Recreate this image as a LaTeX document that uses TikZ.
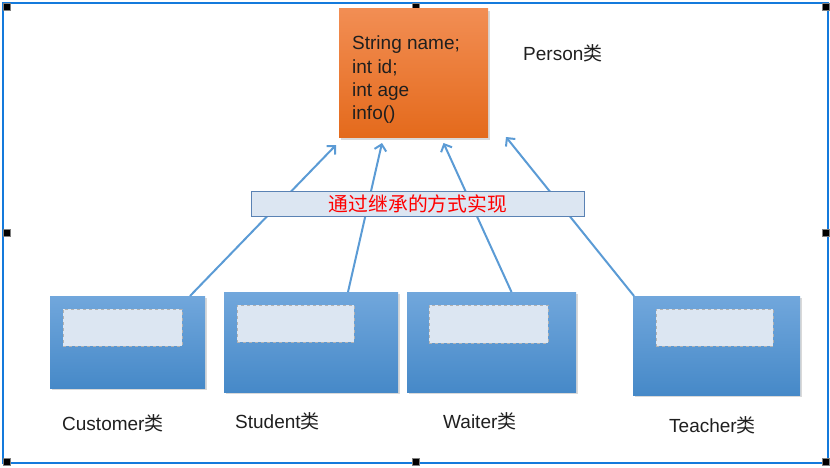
\documentclass[tikz,border=0pt]{standalone}
\usepackage{fontspec}
\setmainfont{Liberation Sans}
\newfontfamily\cjk{Noto Sans CJK SC}
\usetikzlibrary{arrows.meta,shadows}
\definecolor{frameblue}{RGB}{20,122,220}
\definecolor{arrowblue}{RGB}{91,155,213}
\definecolor{paleblue}{RGB}{220,230,242}
\definecolor{bannerline}{RGB}{90,130,180}
\definecolor{orangetop}{RGB}{242,142,84}
\definecolor{orangebot}{RGB}{228,106,28}
\definecolor{classtop}{RGB}{113,167,220}
\definecolor{classbot}{RGB}{70,137,200}

\begin{document}
\begin{tikzpicture}[x=1pt,y=-1pt,
	font=\fontsize{19}{23.3}\selectfont,text=black!88,
	handle/.style={fill=black,draw=gray,line width=0.5pt,inner sep=0,outer sep=0,minimum size=7pt,anchor=north west},
	classbox/.style={anchor=north west,inner sep=0,outer sep=0,top color=classtop,bottom color=classbot,drop shadow={shadow xshift=2pt,shadow yshift=-2pt,opacity=0.3}},
	slot/.style={anchor=north west,inner sep=0,outer sep=0,fill=paleblue,draw=white!70!black,dashed,line width=0.6pt,minimum width=118pt,minimum height=37pt},
	classname/.style={anchor=base west,inner sep=0},
	inherit/.style={draw=arrowblue,line width=2pt,-{Straight Barb[length=6pt,width=12pt]}}]
	\useasboundingbox (0,0) rectangle (830,467);
	% selection frame
	\draw[frameblue,line width=2pt] (3,3) rectangle (828,463);
	\foreach \hx/\hy in {3/3,412/3,822/3,3/229,822/229,3/458,412/458,822/458}
		\node[handle] (h-\hx-\hy) at (\hx,\hy) {};
	% parent class
	\node[anchor=north west,inner sep=0,outer sep=0,minimum width=149pt,minimum height=129pt,top color=orangetop,bottom color=orangebot,drop shadow={shadow xshift=2pt,shadow yshift=-3pt,opacity=0.3}] (person) at (339,8) {};
	\node[anchor=north west,align=left,inner sep=0] (fields) at (352,36) {String name;\\int id;\\int age\\info()};
	\node[classname] (personname) at (523,60) {Person{\cjk 类}};
	% child classes
	\node[classbox,minimum width=155pt,minimum height=92pt] (customer) at (50,296) {};
	\node[classbox,minimum width=174pt,minimum height=100pt] (student) at (224,292) {};
	\node[classbox,minimum width=169pt,minimum height=100pt] (waiter) at (407,292) {};
	\node[classbox,minimum width=167pt,minimum height=99pt] (teacher) at (633,296) {};
	\node[slot,minimum width=119pt] (customerslot) at ([xshift=13pt,yshift=-13pt]customer.north west) {};
	\node[slot,minimum width=117pt] (studentslot) at ([xshift=13pt,yshift=-13pt]student.north west) {};
	\node[slot,minimum width=119pt,minimum height=38pt] (waiterslot) at ([xshift=22pt,yshift=-13pt]waiter.north west) {};
	\node[slot,minimum width=117pt] (teacherslot) at ([xshift=23pt,yshift=-13pt]teacher.north west) {};
	% inheritance arrows
	\draw[inherit] ([xshift=-15pt]customer.north east) -- ([xshift=-3pt,yshift=-8pt]person.south west);
	\draw[inherit] ([xshift=-50pt]student.north east) -- ([xshift=43pt,yshift=-6pt]person.south west);
	\draw[inherit] ([xshift=20pt]waiter.north) -- ([xshift=30pt,yshift=-6pt]person.south);
	\draw[inherit] ([xshift=1pt]teacher.north west) -- ([xshift=18pt]person.south east);
	\node[anchor=north west,inner sep=0,minimum width=333pt,minimum height=25pt,fill=paleblue,draw=bannerline,line width=1pt,text=red,font=\fontsize{19.8}{22}\selectfont\cjk] (banner) at (251,191) {通过继承的方式实现};
	% labels
	\node[classname] (customername) at (62,430) {Customer{\cjk 类}};
	\node[classname] (studentname) at (235,428) {Student{\cjk 类}};
	\node[classname] (waitername) at (443,428) {Waiter{\cjk 类}};
	\node[classname] (teachername) at (669,432) {Teacher{\cjk 类}};
\end{tikzpicture}
\end{document}
